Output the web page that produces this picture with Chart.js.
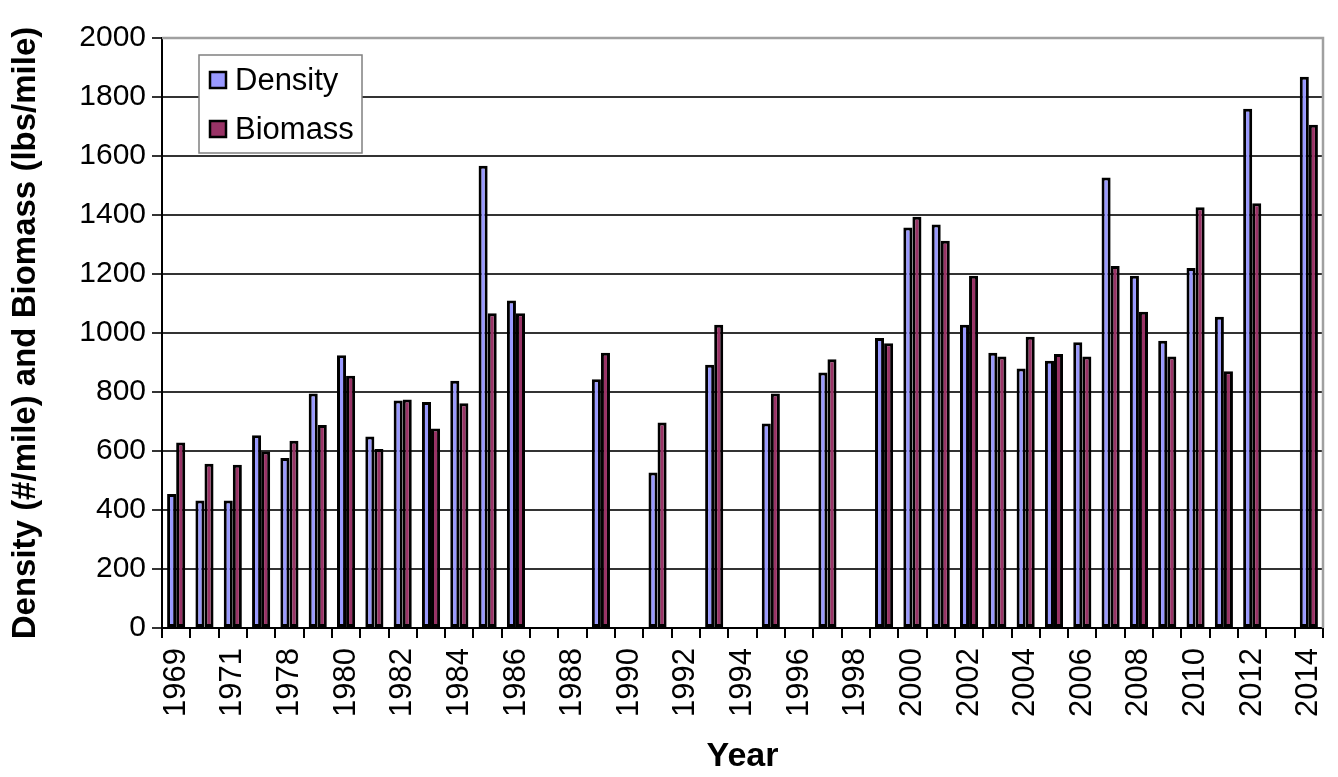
<!DOCTYPE html>
<html>
<head>
<meta charset="utf-8">
<script src="https://cdn.jsdelivr.net/npm/chart.js@4/dist/chart.umd.min.js"></script>
<style>
  html, body { margin: 0; padding: 0; background: #ffffff; }
  #wrap { width: 1338px; height: 777px; position: relative; }
</style>
</head>
<body>
<div id="wrap"><canvas id="chart" width="1338" height="777"></canvas></div>
<script>
// Survey years (gaps are years with no sampling)
const years = ['1969','1970','1971','1977','1978','1979','1980','1981','1982','1983','1984',
  '1985','1986','1987','1988','1989','1990','1991','1992','1993','1994','1995','1996','1997',
  '1998','1999','2000','2001','2002','2003','2004','2005','2006','2007','2008','2009','2010',
  '2011','2012','2013','2014'];

// Density (#/mile)
const density = [454,432,432,653,576,795,925,649,771,766,838,1567,1110,null,null,843,null,527,
  null,892,null,693,null,866,null,983,1358,1368,1028,933,880,906,969,1527,1194,974,1220,1055,
  1760,null,1869];

// Biomass (lbs/mile)
const biomass = [629,557,553,598,635,688,855,607,775,676,762,1067,1067,null,null,933,null,697,
  null,1028,null,795,null,911,null,965,1394,1313,1194,920,987,929,920,1227,1072,920,1426,870,
  1440,null,1706];

const yTicks = [0,200,400,600,800,1000,1200,1400,1600,1800,2000];

const FONT = '"Liberation Sans", Arial, sans-serif';

// Legend box drawn inside the plot area, upper left
const insideLegend = {
  id: 'insideLegend',
  afterDraw(chart) {
    const ctx = chart.ctx;
    const x = 199, y = 55, w = 163, h = 98;
    ctx.save();
    ctx.fillStyle = '#ffffff';
    ctx.fillRect(x, y, w, h);
    ctx.strokeStyle = '#808080';
    ctx.lineWidth = 1.5;
    ctx.strokeRect(x, y, w, h);
    ctx.font = '31px ' + FONT;
    ctx.textBaseline = 'middle';
    chart.data.datasets.forEach((ds, i) => {
      const cy = y + 25 + i * 49;
      ctx.fillStyle = ds.backgroundColor;
      ctx.fillRect(x + 11, cy - 8, 16, 16);
      ctx.strokeStyle = '#000';
      ctx.lineWidth = 2.5;
      ctx.strokeRect(x + 11, cy - 8, 16, 16);
      ctx.fillStyle = '#000';
      ctx.fillText(ds.label, x + 36, cy + 1);
    });
    ctx.restore();
  }
};

// Light grey frame on the top and right of the plot area
const plotFrame = {
  id: 'plotFrame',
  beforeDatasetsDraw(chart) {
    const a = chart.chartArea, ctx = chart.ctx;
    ctx.save();
    ctx.strokeStyle = '#a0a0a0';
    ctx.lineWidth = 2.5;
    ctx.beginPath();
    ctx.moveTo(a.left, a.top);
    ctx.lineTo(a.right, a.top);
    ctx.lineTo(a.right, a.bottom);
    ctx.stroke();
    ctx.restore();
  }
};

new Chart(document.getElementById('chart'), {
  type: 'bar',
  data: {
    labels: years,
    datasets: [
      { label: 'Density', data: density, backgroundColor: '#9999ff',
        borderColor: '#000000', borderWidth: 3, borderSkipped: false },
      { label: 'Biomass', data: biomass, backgroundColor: '#993366',
        borderColor: '#000000', borderWidth: 3, borderSkipped: false }
    ]
  },
  options: {
    responsive: false,
    animation: false,
    layout: { padding: { left: 6, right: 15, top: 38, bottom: 0 } },
    datasets: { bar: { categoryPercentage: 0.64, barPercentage: 1.0 } },
    plugins: { legend: { display: false }, tooltip: { enabled: false } },
    scales: {
      x: {
        grid: { offset: true, drawOnChartArea: false, drawTicks: true, tickLength: 10,
                color: '#000', lineWidth: 2 },
        border: { color: '#000', width: 2 },
        ticks: {
          autoSkip: false, maxRotation: 90, minRotation: 90, padding: 10,
          color: '#000', font: { family: FONT, size: 31 },
          callback: (v, i) => (i % 2 === 0 ? years[i] : '')
        },
        title: { display: true, text: 'Year', color: '#000',
                 font: { family: FONT, size: 34, weight: 'bold' }, padding: { top: 0, bottom: 0 } },
        afterFit: (s) => { s.height = 149; s.paddingLeft = 0; s.paddingRight = 0; }
      },
      y: {
        min: 0, max: 2000,
        afterBuildTicks: (s) => { s.ticks = yTicks.map(v => ({ value: v })); },
        grid: { color: '#333333', lineWidth: 2, drawTicks: true, tickLength: 10 },
        border: { color: '#000', width: 2 },
        ticks: { color: '#000', padding: 6, font: { family: FONT, size: 30 },
                 callback: (v) => String(v) },
        title: { display: true, text: 'Density (#/mile) and Biomass (lbs/mile)', color: '#000',
                 font: { family: FONT, size: 33, weight: 'bold' }, padding: { top: 0, bottom: 0 } },
        afterFit: (s) => { s.width = 156; s.paddingTop = 0; s.paddingBottom = 0; }
      }
    }
  },
  plugins: [plotFrame, insideLegend]
});
</script>
</body>
</html>
